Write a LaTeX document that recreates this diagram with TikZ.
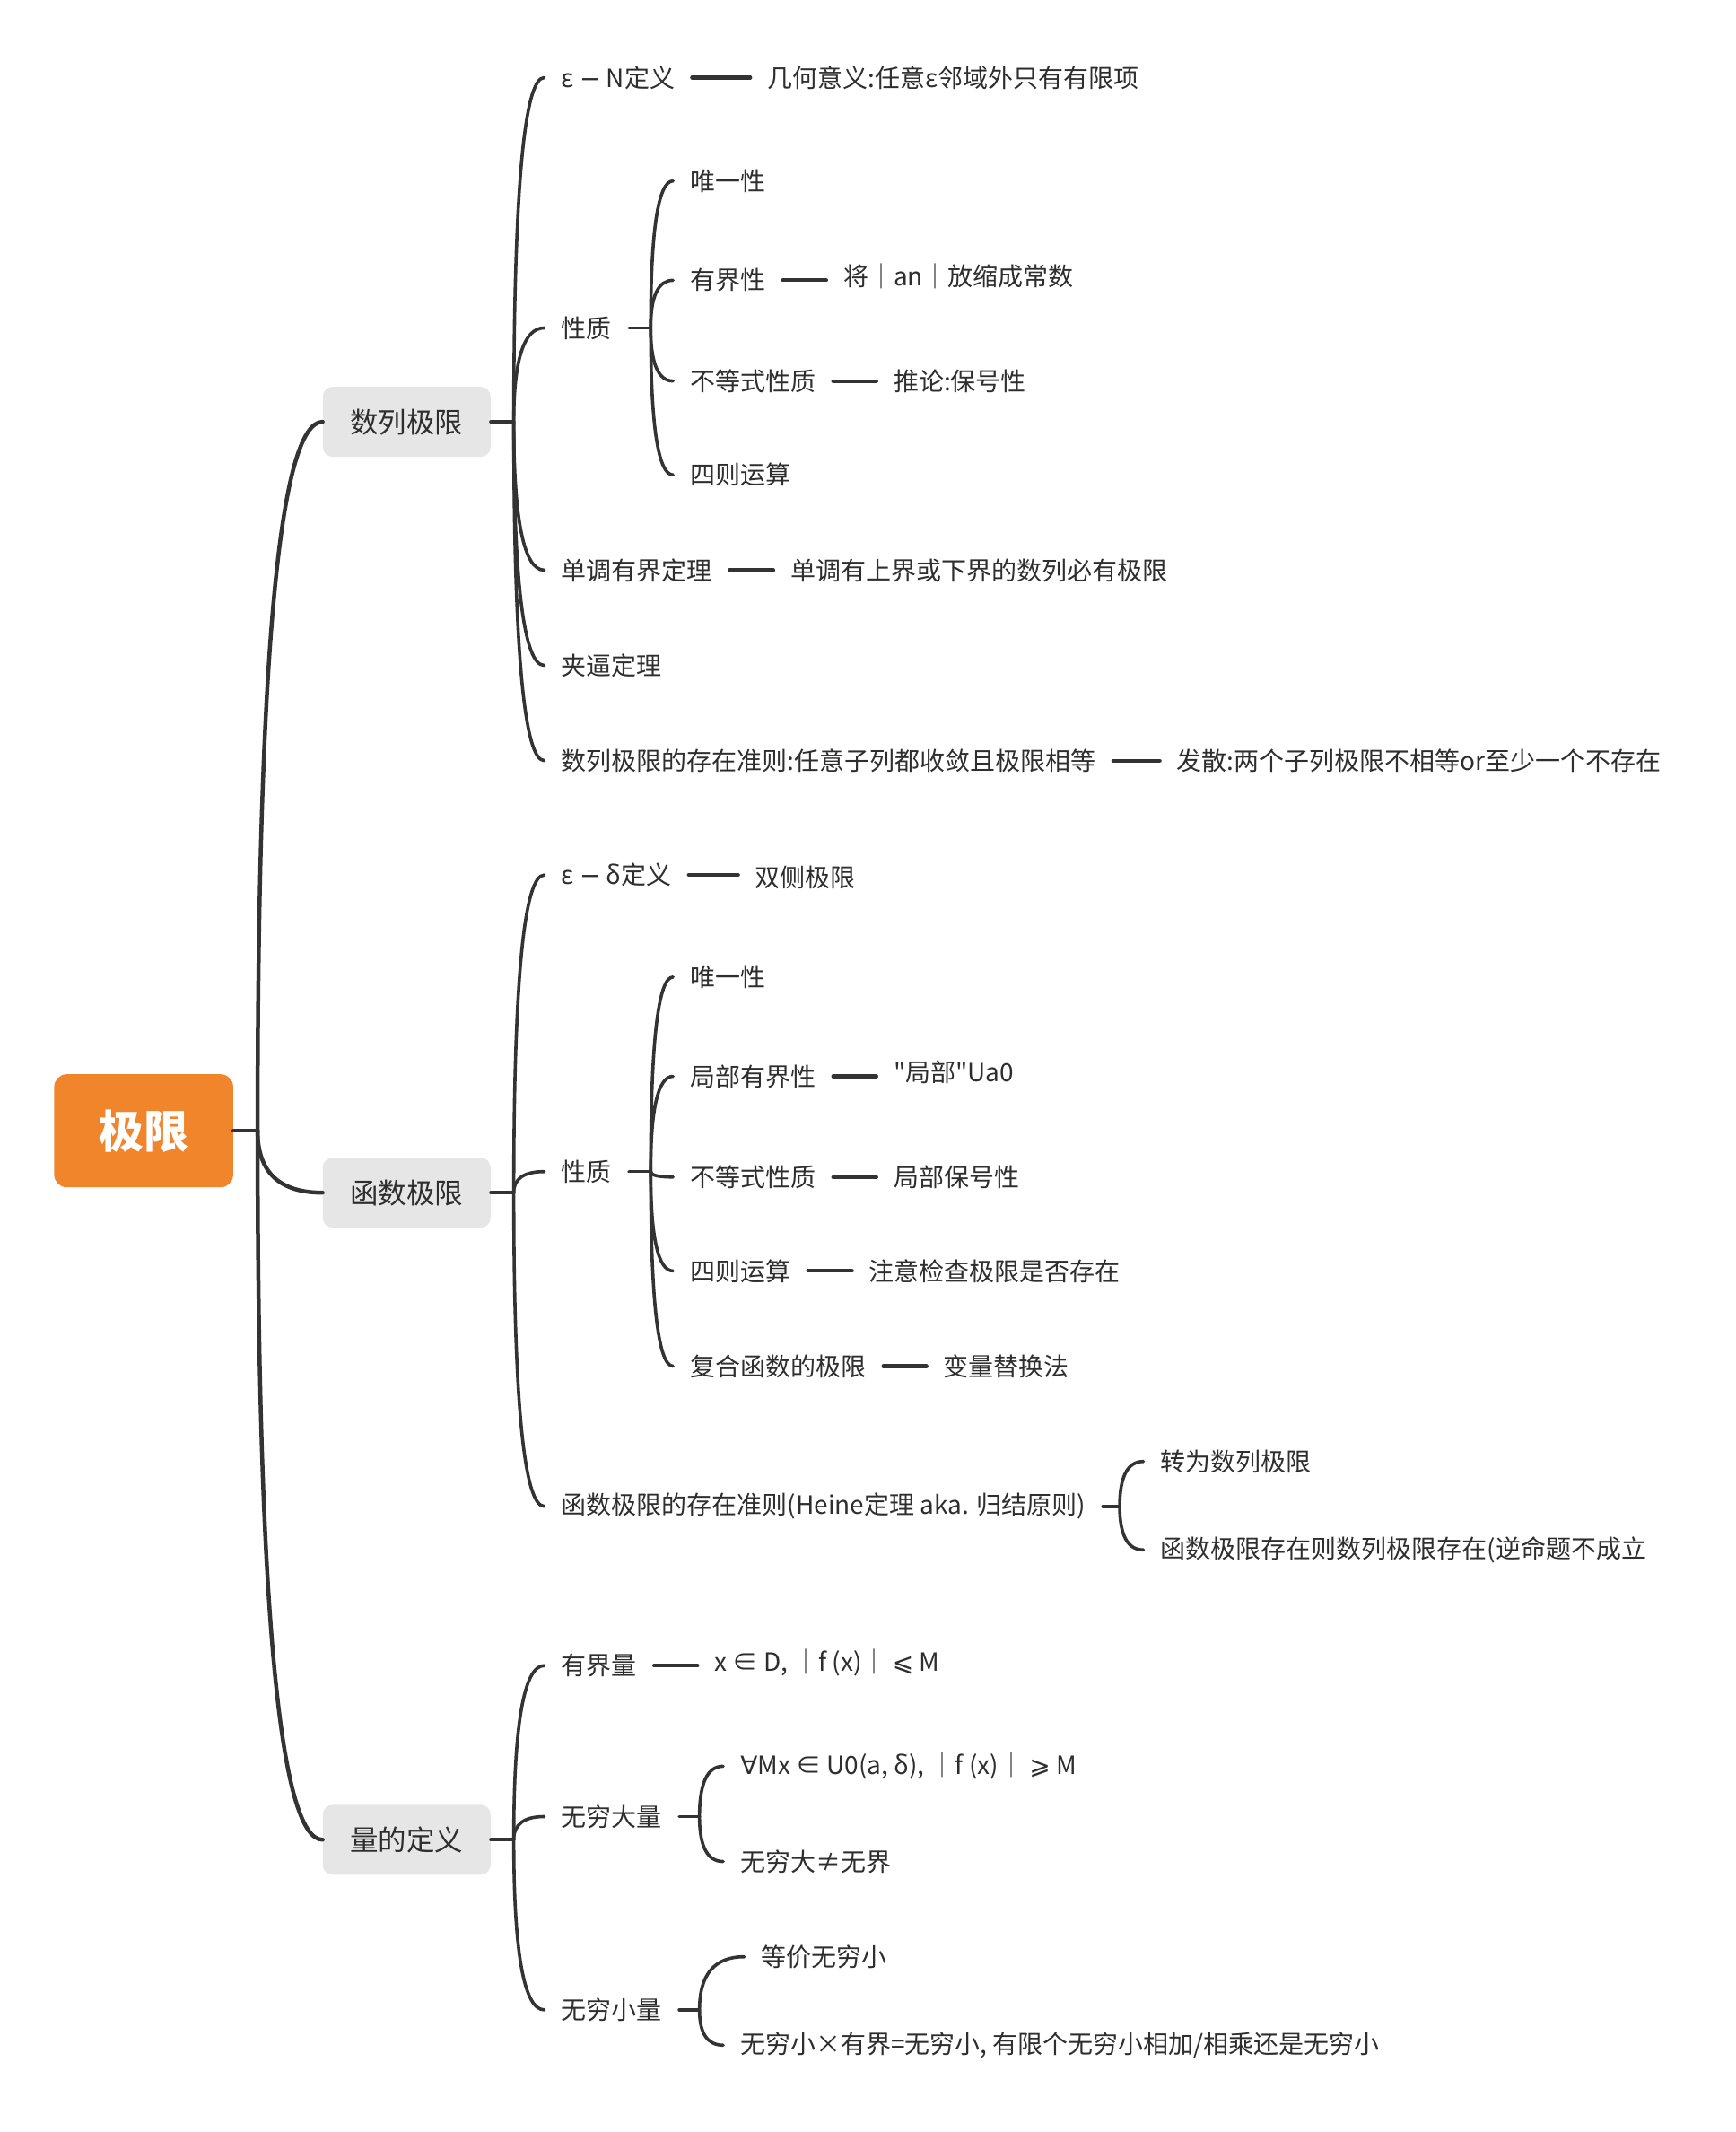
\documentclass[tikz,border=0pt]{standalone}
\usepackage{fontspec}
\setmainfont{Noto Sans CJK SC}
\newfontfamily\cjk{Noto Sans CJK SC}
\newfontfamily\symf{DejaVu Sans}
\usetikzlibrary{calc}
\definecolor{txt}{HTML}{2E2E2E}
\definecolor{ln}{HTML}{333333}
\definecolor{org}{HTML}{F0852B}
\definecolor{gbox}{HTML}{E6E6E6}
\newcommand\fsL{\cjk\fontsize{28pt}{33pt}\selectfont}
\newcommand\fsM{\cjk\fontsize{31.5pt}{36pt}\selectfont}
\newcommand\fsR{\cjk\fontsize{50pt}{58pt}\selectfont\bfseries}
\newcommand\mn{\ {\symf −}\ }
\begin{document}
\begin{tikzpicture}[x=1.511pt,y=-1.5165pt,
  qc/.style={to path={.. controls ($(\tikztostart)!0.6667!(\tikztostart|-\tikztotarget)$) and ($(\tikztotarget)!0.6667!(\tikztostart|-\tikztotarget)$) .. (\tikztotarget)}},
  leaf/.style={anchor=west, inner xsep=19pt, inner ysep=2pt, font=\fsL, text=txt},
  lvbox/.style={fill=gbox, rounded corners=11pt, minimum width=187pt, minimum height=78pt, inner sep=0pt, font=\fsM, text=txt},
  rootbox/.style={fill=org, rounded corners=14pt, minimum width=199.5pt, minimum height=126pt, inner sep=0pt, font=\fsR, text=white},
  trunk/.style={draw=ln, line width=4.5pt, line cap=round},
  br/.style={draw=ln, line width=3.6pt, line cap=round},
  lone/.style={draw=ln, line width=4.2pt, line cap=round}]
\fill[white] (0,0) rectangle (1280,1566.8);
\useasboundingbox (0,0) rectangle (1280,1566.8);

% root and level 1
\node[rootbox] (root) at (106,831) {极限};
\node[lvbox] (b1) at (300,310) {数列极限};
\node[lvbox] (b2) at (300,876.5) {函数极限};
\node[lvbox] (b3) at (300,1352) {量的定义};
\coordinate (rj) at (190,831);
\coordinate (j1) at (379,310);
\coordinate (j3) at (379,876.5);
\coordinate (j6) at (379,1352);

% 数列极限
\node[leaf] (s1) at (401.5,57) {ε\mn N定义};
\node[leaf] (s1c) at (553.5,57) {几何意义:任意ε邻域外只有有限项};
\node[leaf] (s2) at (401.5,241) {性质};
\coordinate (j2) at (480,241);
\node[leaf] (s21) at (496.5,133) {唯一性};
\node[leaf] (s22) at (496.5,206) {有界性};
\node[leaf] (s22c) at (609.5,203) {将｜an｜放缩成常数};
\node[leaf] (s23) at (496.5,280) {不等式性质};
\node[leaf] (s23c) at (646.5,280) {推论:保号性};
\node[leaf] (s24) at (496.5,349) {四则运算};
\node[leaf] (s3) at (401.5,419) {单调有界定理};
\node[leaf] (s3c) at (570.5,419) {单调有上界或下界的数列必有极限};
\node[leaf] (s4) at (401.5,489) {夹逼定理};
\node[leaf] (s5) at (401.5,559) {数列极限的存在准则:任意子列都收敛且极限相等};
\node[leaf] (s5c) at (855.5,559) {发散:两个子列极限不相等or至少一个不存在};

% 函数极限
\node[leaf] (f1) at (401.5,643) {ε\mn δ定义};
\node[leaf] (f1c) at (544.5,645) {双侧极限};
\node[leaf] (f2) at (401.5,861) {性质};
\coordinate (j4) at (480,861);
\node[leaf] (f21) at (496.5,718) {唯一性};
\node[leaf] (f22) at (496.5,791) {局部有界性};
\node[leaf] (f22c) at (646.5,788) {"局部"Ua0};
\node[leaf] (f23) at (496.5,865) {不等式性质};
\node[leaf] (f23c) at (646.5,865) {局部保号性};
\node[leaf] (f24) at (496.5,934) {四则运算};
\node[leaf] (f24c) at (628.5,934) {注意检查极限是否存在};
\node[leaf] (f25) at (496.5,1004) {复合函数的极限};
\node[leaf] (f25c) at (683.5,1004) {变量替换法};
\node[leaf] (f3) at (401.5,1107) {函数极限的存在准则(Heine定理 aka. 归结原则)};
\coordinate (j5) at (826,1107);
\node[leaf] (f31) at (843.5,1074) {转为数列极限};
\node[leaf] (f32) at (843.5,1139) {函数极限存在则数列极限存在(逆命题不成立};

% 量的定义
\node[leaf] (q1) at (401.5,1224) {有界量};
\node[leaf] (q1c) at (514.5,1222) {x ∈ D, ｜f (x)｜ {\symf ⩽} M};
\node[leaf] (q2) at (401.5,1335) {无穷大量};
\coordinate (j7) at (516,1335);
\node[leaf] (q21) at (533.5,1298) {{\symf ∀}Mx ∈ U0(a, δ), ｜f (x)｜ {\symf ⩾} M};
\node[leaf] (q22) at (533.5,1368) {无穷大≠无界};
\node[leaf] (q3) at (401.5,1477) {无穷小量};
\coordinate (j8) at (516,1477);
\node[leaf] (q31) at (549,1438) {等价无穷小};
\node[leaf] (q32) at (533.5,1503) {无穷小×有界=无穷小, 有限个无穷小相加/相乘还是无穷小};

% connectors: root
\draw[trunk] (root.east) -- (rj);
\draw[trunk] (rj) to[qc] (b1.west);
\draw[trunk] (rj) to[qc] (b2.west);
\draw[trunk] (rj) to[qc] (b3.west);

% 数列极限
\draw[br] (b1.east) -- (j1);
\foreach \n in {s1,s2,s3,s4,s5} \draw[br] (j1) to[qc] (\n.west);
\draw[br] (s2.east) -- (j2);
\foreach \n in {s21,s22,s23,s24} \draw[br] (j2) to[qc] (\n.west);
\draw[lone] (s1.east) -- (s1.east-|s1c.west);
\draw[lone] (s22.east) -- (s22.east-|s22c.west);
\draw[lone] (s23.east) -- (s23c.west);
\draw[lone] (s3.east) -- (s3c.west);
\draw[lone] (s5.east) -- (s5c.west);

% 函数极限
\draw[br] (b2.east) -- (j3);
\foreach \n in {f1,f2,f3} \draw[br] (j3) to[qc] (\n.west);
\draw[br] (f2.east) -- (j4);
\foreach \n in {f21,f22,f23,f24,f25} \draw[br] (j4) to[qc] (\n.west);
\draw[br] (f3.east) -- (j5);
\foreach \n in {f31,f32} \draw[br] (j5) to[qc] (\n.west);
\draw[lone] (f1.east) -- (f1.east-|f1c.west);
\draw[lone] (f22.east) -- (f22.east-|f22c.west);
\draw[lone] (f23.east) -- (f23c.west);
\draw[lone] (f24.east) -- (f24c.west);
\draw[lone] (f25.east) -- (f25c.west);

% 量的定义
\draw[br] (b3.east) -- (j6);
\foreach \n in {q1,q2,q3} \draw[br] (j6) to[qc] (\n.west);
\draw[br] (q2.east) -- (j7);
\foreach \n in {q21,q22} \draw[br] (j7) to[qc] (\n.west);
\draw[br] (q3.east) -- (j8);
\foreach \n in {q31,q32} \draw[br] (j8) to[qc] (\n.west);
\draw[lone] (q1.east) -- (q1.east-|q1c.west);
\end{tikzpicture}
\end{document}
